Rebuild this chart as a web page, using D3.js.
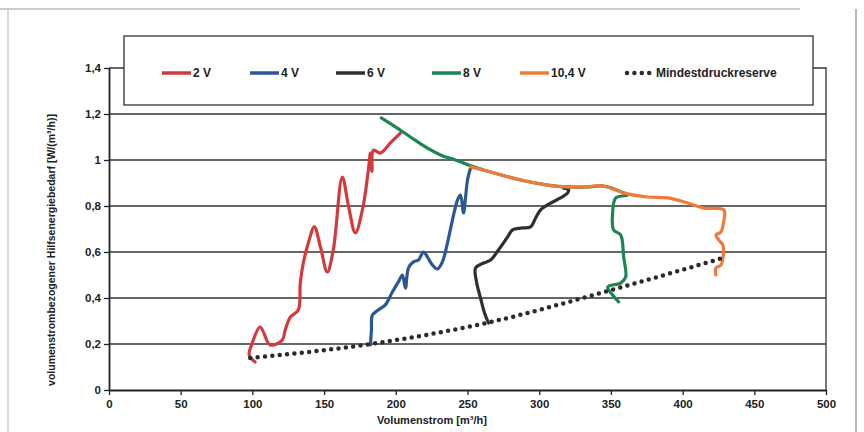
<!DOCTYPE html>
<html>
<head>
<meta charset="utf-8">
<script src="https://cdn.jsdelivr.net/npm/d3@7"></script>
<style>
  body { margin: 0; background: #fff; }
  svg { display: block; }
  text { font-family: "Liberation Sans", Arial, sans-serif; font-weight: bold; fill: #222; }
</style>
</head>
<body>
<svg width="864" height="432"></svg>
<script>
// values (x: m3/h, y: W/(m3/h))
var serie2V = [[101.9,0.122],[97.8,0.152],[99.9,0.204],[105.4,0.274],[112.4,0.196],[120.8,0.217],[122.9,0.261],[126.4,0.317],[132.0,0.348],[133.4,0.465],[135.5,0.552],[139.0,0.639],[143.2,0.709],[147.5,0.62],[152.2,0.513],[156.4,0.609],[162.7,0.926],[167.0,0.80],[171.8,0.683],[176.7,0.783],[180.9,0.957],[182.3,1.030],[183.4,0.95],[184.4,1.043],[189.2,1.030],[196.2,1.074],[203.2,1.117]];

var serie4V = [[182.3,0.196],[183.0,0.261],[183.7,0.326],[187.8,0.348],[192.7,0.370],[197.6,0.426],[201.8,0.470],[204.6,0.500],[206.7,0.443],[208.8,0.530],[212.3,0.557],[215.8,0.565],[219.3,0.600],[222.1,0.578],[225.6,0.543],[229.0,0.526],[232.5,0.557],[236.0,0.639],[239.5,0.739],[243.0,0.826],[245.1,0.848],[247.2,0.770],[248.6,0.835],[250.0,0.913],[252.1,0.965]];

var serie6V = [[264.7,0.291],[261.9,0.335],[259.1,0.400],[256.3,0.470],[255.6,0.530],[261.2,0.552],[266.1,0.565],[271.6,0.609],[277.9,0.665],[281.4,0.696],[287.0,0.704],[294.0,0.709],[297.5,0.748],[301.0,0.783],[308.0,0.813],[314.9,0.835],[319.8,0.857],[320.5,0.870],[317.0,0.878]];

var serie8V = [[189.9,1.183],[199.7,1.144],[210.2,1.100],[220.7,1.057],[231.1,1.022],[241.6,1.000],[252.1,0.975],[266.1,0.948],[287.0,0.913],[305.9,0.891],[319.8,0.883],[333.8,0.883],[345.0,0.887],[358.9,0.857],[361.7,0.848],[353.4,0.835],[351.2,0.770],[351.9,0.696],[356.8,0.674],[358.9,0.578],[360.3,0.491],[356.8,0.465],[347.8,0.448],[351.2,0.413],[355.4,0.383]];

var serie104V = [[252.1,0.970],[266.1,0.948],[287.0,0.913],[305.9,0.891],[319.8,0.883],[333.8,0.883],[338.0,0.887],[345.0,0.887],[358.9,0.857],[375.7,0.839],[389.6,0.835],[403.6,0.813],[414.8,0.791],[428.8,0.783],[428.8,0.739],[426.7,0.687],[423.2,0.674],[425.3,0.652],[428.1,0.630],[428.1,0.574],[426.7,0.543],[423.2,0.530],[423.2,0.500]];

var mindestdruck = [[98.5,0.139],[182.3,0.200],[263.5,0.292],[351.5,0.437],[428.1,0.574]];

var seriesNames = ["2 V", "4 V", "6 V", "8 V", "10,4 V"];
var seriesColors = ["#d23a3c", "#2c5796", "#2f2f2f", "#1d8553", "#f07a3a"];
var xTicks = [0, 50, 100, 150, 200, 250, 300, 350, 400, 450, 500];
var yTicks = [0, 0.2, 0.4, 0.6, 0.8, 1, 1.2, 1.4];

var svg = d3.select("svg");

var x = d3.scaleLinear().domain([0, 500]).range([109, 826]);
var y = d3.scaleLinear().domain([0, 1.4]).range([390, 68]);

function fmt(d) { return String(+d.toFixed(1)).replace(".", ","); }

// faint scan frame
svg.append("line").attr("x1", 0).attr("x2", 800).attr("y1", 9).attr("y2", 9)
    .attr("stroke", "#999").attr("stroke-width", 1.2);
svg.append("line").attr("x1", 8).attr("x2", 8).attr("y1", 9).attr("y2", 432)
    .attr("stroke", "#c5d0d8").attr("stroke-width", 1.5);
svg.append("line").attr("x1", 856).attr("x2", 856).attr("y1", 9).attr("y2", 432)
    .attr("stroke", "#888").attr("stroke-width", 1.2);

// gridlines
svg.append("g").selectAll("line")
    .data(yTicks.filter(function(d) { return d > 0 && d < 1.4; }))
    .enter().append("line")
    .attr("x1", x(0)).attr("x2", x(500))
    .attr("y1", function(d) { return y(d); })
    .attr("y2", function(d) { return y(d); })
    .attr("stroke", "#333").attr("stroke-width", 1.3);

// plot border (top + right)
svg.append("path")
    .attr("d", "M" + x(0) + "," + y(1.4) + "H" + x(500) + "V" + y(0))
    .attr("fill", "none").attr("stroke", "#333").attr("stroke-width", 1.3);

// axes
var yAxis = svg.append("g")
    .attr("transform", "translate(" + x(0) + ",0)")
    .call(d3.axisLeft(y).tickValues(yTicks).tickFormat(fmt).tickSize(5).tickSizeOuter(0));
var xAxis = svg.append("g")
    .attr("transform", "translate(0," + y(0) + ")")
    .call(d3.axisBottom(x).tickValues(xTicks).tickFormat(fmt).tickSize(5).tickSizeOuter(0));
[xAxis, yAxis].forEach(function(a) {
    a.select(".domain").attr("stroke", "#222").attr("stroke-width", 1.8);
    a.selectAll(".tick line").attr("stroke", "#222").attr("stroke-width", 1.3);
    a.selectAll(".tick text").attr("font-size", 11.5).attr("fill", "#222")
        .attr("font-family", "'Liberation Sans', Arial, sans-serif").attr("font-weight", "bold");
});
yAxis.selectAll(".tick text").attr("x", -8);
xAxis.selectAll(".tick text").attr("y", 10);

// axis titles
svg.append("text")
    .attr("x", 432).attr("y", 424)
    .attr("text-anchor", "middle").attr("font-size", 11)
    .text("Volumenstrom [m³/h]");
svg.append("text")
    .attr("transform", "translate(55,250) rotate(-90)")
    .attr("text-anchor", "middle").attr("font-size", 10.5)
    .text("volumenstrombezogener Hilfsenergiebedarf [W/(m³/h)]");

// curves
var line = d3.line()
    .x(function(d) { return x(d[0]); })
    .y(function(d) { return y(d[1]); })
    .curve(d3.curveCatmullRom.alpha(0.5));

var allSeries = [serie2V, serie4V, serie6V, serie8V, serie104V];
svg.append("g").selectAll("path")
    .data(allSeries)
    .enter().append("path")
    .attr("d", line)
    .attr("fill", "none")
    .attr("stroke", function(d, i) { return seriesColors[i]; })
    .attr("stroke-width", 3.2)
    .attr("stroke-linejoin", "round")
    .attr("stroke-linecap", "round");

svg.append("path")
    .datum(mindestdruck)
    .attr("d", d3.line().x(function(d) { return x(d[0]); }).y(function(d) { return y(d[1]); }).curve(d3.curveMonotoneX))
    .attr("fill", "none")
    .attr("stroke", "#2a2a2a")
    .attr("stroke-width", 4.5)
    .attr("stroke-linecap", "round")
    .attr("stroke-dasharray", "0 7.4");

// legend box
var legend = svg.append("g");
legend.append("rect")
    .attr("x", 124).attr("y", 36).attr("width", 689).attr("height", 69)
    .attr("fill", "#fff").attr("stroke", "#333").attr("stroke-width", 1.3);

var legendX = [162, 250, 336, 432, 520];
var legendY = 73;
seriesNames.forEach(function(name, i) {
    legend.append("line")
        .attr("x1", legendX[i]).attr("x2", legendX[i] + 29)
        .attr("y1", legendY).attr("y2", legendY)
        .attr("stroke", seriesColors[i]).attr("stroke-width", 3.5);
    legend.append("text")
        .attr("x", legendX[i] + 31).attr("y", legendY + 4)
        .attr("font-size", 12)
        .text(name);
});
legend.append("line")
    .attr("x1", 627).attr("x2", 652)
    .attr("y1", legendY).attr("y2", legendY)
    .attr("stroke", "#2a2a2a").attr("stroke-width", 4.5)
    .attr("stroke-linecap", "round").attr("stroke-dasharray", "0 7.4");
legend.append("text")
    .attr("x", 656).attr("y", legendY + 4)
    .attr("font-size", 12)
    .text("Mindestdruckreserve");
</script>
</body>
</html>
